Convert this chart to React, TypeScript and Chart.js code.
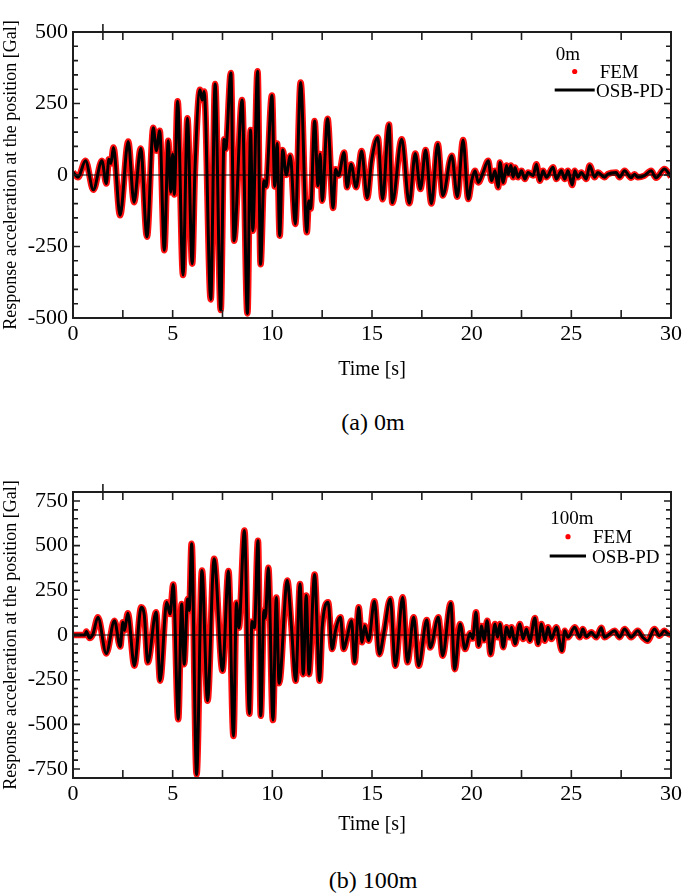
import React, { useEffect, useRef } from 'react';
import { Chart, registerables } from 'chart.js';
Chart.register(...registerables);

// ---------------- data ----------------
const timeA = [0, 0.25, 0.63, 1.02, 1.45, 1.67, 1.8, 1.9, 2.03, 2.36, 2.77, 3.06, 3.4, 3.71, 4.03, 4.18, 4.35, 4.58, 4.78, 4.9, 5.0, 5.08, 5.25, 5.52, 5.74, 5.98, 6.12, 6.37, 6.48, 6.58, 6.91, 7.13, 7.41, 7.58, 7.66, 7.92, 8.08, 8.48, 8.75, 8.91, 9.02, 9.26, 9.41, 9.58, 9.68, 9.98, 10.12, 10.24, 10.37, 10.52, 10.7, 10.9, 11.15, 11.42, 11.73, 11.83, 11.92, 12.12, 12.29, 12.4, 12.5, 12.77, 13.05, 13.17, 13.32, 13.6, 13.75, 13.95, 14.2, 14.48, 14.76, 14.98, 15.29, 15.53, 15.85, 16.02, 16.49, 16.87, 17.17, 17.43, 17.69, 17.98, 18.3, 18.55, 19.0, 19.28, 19.57, 19.83, 20.0, 20.17, 20.33, 20.58, 20.83, 21.0, 21.17, 21.33, 21.42, 21.58, 21.75, 21.83, 21.97, 22.08, 22.17, 22.33, 22.5, 22.67, 22.83, 23.08, 23.25, 23.42, 23.58, 23.75, 24.08, 24.25, 24.5, 24.67, 24.83, 25.05, 25.17, 25.33, 25.5, 25.75, 25.92, 26.17, 26.33, 26.67, 26.83, 27.25, 27.42, 27.67, 28.0, 28.17, 28.33, 28.67, 29.0, 29.25, 29.67, 30.0];
const accA = [10, -8, 50, -52, 50, -30, 55, 40, 96, -141, 117, -95, 93, -216, 165, 85, 155, -263, 120, -60, 73, -68, 258, -350, 198, -310, 20, 298, 262, 292, -435, 318, -472, 125, 90, 357, -230, 262, -484, 157, -195, 363, -312, -20, -40, 278, -40, 110, -212, 87, 0, 67, -171, 323, -200, -90, -118, 189, -37, 73, -90, 197, -115, 20, -2, 79, -43, 38, -43, 84, -80, 50, 131, -85, 177, -97, 125, -99, 75, -49, 87, -100, 108, -72, 67, -76, 122, -84, -20, 15, -26, 10, 50, -20, 15, -43, 44, -26, 33, 3, 33, -8, 26, -8, 15, -14, 9, -2, 38, -20, 15, -8, 27, -14, 15, -14, 15, -35, 15, -8, 9, -14, 33, -8, 9, -8, 3, 9, -8, 15, -10, 3, -8, -2, 15, -10, 21, -6];

const timeB = [0, 0.6, 0.67, 0.83, 1.0, 1.25, 1.67, 2.08, 2.37, 2.5, 2.58, 2.75, 3.08, 3.42, 3.58, 3.75, 4.17, 4.37, 4.7, 4.87, 5.03, 5.28, 5.45, 5.58, 5.75, 5.83, 5.95, 6.2, 6.47, 6.75, 7.08, 7.5, 7.8, 8.05, 8.2, 8.32, 8.6, 8.85, 8.98, 9.1, 9.28, 9.42, 9.58, 9.65, 9.8, 10.03, 10.2, 10.34, 10.75, 10.95, 11.17, 11.39, 11.55, 11.7, 11.84, 12.12, 12.37, 12.5, 12.8, 13.0, 13.17, 13.42, 13.58, 13.75, 13.97, 14.13, 14.33, 14.5, 14.63, 14.83, 15.12, 15.37, 15.6, 15.92, 16.17, 16.54, 16.78, 17.09, 17.34, 17.75, 17.92, 18.33, 18.54, 18.95, 19.15, 19.42, 19.67, 19.92, 20.05, 20.22, 20.35, 20.5, 20.62, 20.78, 20.95, 21.17, 21.3, 21.42, 21.58, 21.75, 21.92, 22.0, 22.17, 22.42, 22.58, 22.75, 22.92, 23.17, 23.33, 23.5, 23.67, 23.83, 24.0, 24.25, 24.53, 24.67, 24.83, 25.17, 25.42, 25.58, 25.75, 26.0, 26.25, 26.5, 26.67, 26.92, 27.17, 27.42, 27.67, 28.0, 28.33, 28.58, 28.83, 29.17, 29.42, 29.67, 29.83, 30.0];
const accB = [0, 0, 20, -17, 5, 99, -103, 80, -65, 71, 25, 121, -172, 155, 108, -153, 127, -256, 183, 118, 282, -471, 174, -163, 202, 137, 510, -780, 361, -368, 426, -200, 358, -565, 180, 40, 584, -440, 75, 40, 527, -452, 137, 95, 376, -476, 210, -270, 305, 60, -256, 286, -219, 221, -219, 338, -256, 40, 183, -79, 25, 99, -79, -13, 80, -153, 155, -41, 52, -32, 189, -107, 15, 202, -172, 211, -153, 99, -172, 84, -70, 99, -116, 178, -191, 62, -79, 10, -20, 127, -60, 50, -30, 80, -107, 62, -13, 62, -69, 43, -13, 43, -50, 62, -22, 34, -32, 95, -50, 62, -32, 43, -22, 43, -88, 24, -13, 43, -13, 34, -9, 15, -13, 40, -13, 6, 24, -13, 34, -13, 24, -13, -32, 34, -4, 24, 9, 0];

const xTickValues = [0, 5, 10, 15, 20, 25, 30];
const yTickValuesA = [-500, -250, 0, 250, 500];
const yTickValuesB = [-750, -500, -250, 0, 250, 500, 750];
const seriesNames = ['FEM', 'OSB-PD'];
const panelLabels = ['0m', '100m'];
const captions = ['(a) 0m', '(b) 100m'];
const yTitle = 'Response acceleration at the position [Gal]';
const xTitle = 'Time [s]';

const FONT = "'Liberation Serif', 'Times New Roman', serif";

type LegendPos = {
  labelX: number; labelY: number; dotX: number; dotY: number; femX: number; femY: number;
  lineX1: number; lineX2: number; lineY: number; osbX: number; osbY: number;
};

type PanelProps = {
  time: number[]; acc: number[]; yMin: number; yMax: number; yTicks: number[];
  label: string; top: number; height: number; padTop: number; chartBottom: number;
  titlePad: number; legend: LegendPos;
};

function Panel(p: PanelProps) {
  const ref = useRef<HTMLCanvasElement>(null);
  useEffect(() => {
    if (!ref.current) return;
    const pts = p.time.map((t, i) => ({ x: t, y: p.acc[i] }));
    const frame = {
      id: 'frame',
      afterDatasetsDraw(chart: any) {
        const { ctx, chartArea: a, scales } = chart;
        const xs = scales.x, ys = scales.y;
        ctx.save();
        // zero line
        const y0 = ys.getPixelForValue(0);
        ctx.strokeStyle = '#000';
        ctx.lineWidth = 1;
        ctx.beginPath(); ctx.moveTo(a.left, y0); ctx.lineTo(a.right, y0); ctx.stroke();
        // frame
        ctx.strokeStyle = '#1e1e1e';
        ctx.lineWidth = 2;
        ctx.strokeRect(a.left, a.top, a.right - a.left, a.bottom - a.top);
        // inward x ticks every 2.5 s (top and bottom)
        ctx.lineWidth = 1.6;
        ctx.beginPath();
        for (let v = 2.5; v < 30; v += 2.5) {
          const px = xs.getPixelForValue(v);
          ctx.moveTo(px, a.top); ctx.lineTo(px, a.top + 8);
          ctx.moveTo(px, a.bottom); ctx.lineTo(px, a.bottom - 8);
        }
        // stray tick above the frame
        const ps = xs.getPixelForValue(1.5);
        ctx.moveTo(ps, a.top - 8); ctx.lineTo(ps, a.top + 8);
        // inward y ticks every 50 (left and right)
        for (let v = p.yMin + 50; v < p.yMax; v += 50) {
          const py = ys.getPixelForValue(v);
          const major = v % 250 === 0;
          const len = major ? 7 : 5;
          ctx.moveTo(a.left, py); ctx.lineTo(a.left + len, py);
          ctx.moveTo(a.right, py); ctx.lineTo(a.right - len, py);
        }
        ctx.stroke();
        ctx.restore();
      },
      afterDraw(chart: any) {
        const { ctx, chartArea: a } = chart;
        const L = p.legend;
        ctx.save();
        ctx.font = `19px ${FONT}`;
        ctx.fillStyle = '#000';
        ctx.textBaseline = 'middle';
        ctx.textAlign = 'center';
        ctx.fillText(p.label, a.right + L.labelX, a.top + L.labelY);
        ctx.textAlign = 'left';
        ctx.fillText(seriesNames[0], a.right + L.femX, a.top + L.femY);
        ctx.fillText(seriesNames[1], a.right + L.osbX, a.top + L.osbY);
        ctx.fillStyle = '#ff0000';
        ctx.beginPath(); ctx.arc(a.right + L.dotX, a.top + L.dotY, 2.6, 0, Math.PI * 2); ctx.fill();
        ctx.strokeStyle = '#000';
        ctx.lineWidth = 3;
        ctx.beginPath(); ctx.moveTo(a.right + L.lineX1, a.top + L.lineY); ctx.lineTo(a.right + L.lineX2, a.top + L.lineY); ctx.stroke();
        ctx.restore();
      },
    };
    const chart = new Chart(ref.current, {
      type: 'line',
      data: {
        datasets: [
          {
            label: seriesNames[1], data: pts, borderColor: '#000', borderWidth: 3,
            pointRadius: 0, cubicInterpolationMode: 'monotone', order: 0,
          },
          {
            label: seriesNames[0], data: pts, borderColor: '#ff1010', borderWidth: 6.5,
            pointRadius: 0, cubicInterpolationMode: 'monotone', order: 1,
          },
        ],
      },
      options: {
        animation: false,
        responsive: false,
        maintainAspectRatio: false,
        devicePixelRatio: 1,
        layout: { padding: { top: p.padTop, right: 12, left: 0, bottom: 0 } },
        plugins: { legend: { display: false }, tooltip: { enabled: false } },
        scales: {
          x: {
            type: 'linear', min: 0, max: 30,
            afterBuildTicks: (s: any) => { s.ticks = xTickValues.map((v) => ({ value: v })); },
            afterFit: (s: any) => { s.height = p.height - p.chartBottom; },
            grid: { display: false, drawTicks: false },
            border: { display: false },
            ticks: { color: '#000', font: { family: FONT, size: 22 }, padding: 3, maxRotation: 0, autoSkip: false },
            title: { display: true, text: xTitle, color: '#000', font: { family: FONT, size: 20 }, padding: { top: 0, bottom: p.titlePad } },
          },
          y: {
            type: 'linear', min: p.yMin, max: p.yMax,
            afterBuildTicks: (s: any) => { s.ticks = p.yTicks.map((v) => ({ value: v })); },
            afterFit: (s: any) => { s.width = 73; },
            grid: { display: false, drawTicks: false },
            border: { display: false },
            ticks: { color: '#000', font: { family: FONT, size: 22 }, padding: 5, autoSkip: false },
            title: { display: true, text: yTitle, color: '#000', font: { family: FONT, size: 18 }, padding: { top: 0, bottom: 0 } },
          },
        },
      },
      plugins: [frame],
    } as any);
    return () => chart.destroy();
  }, []);
  return (
    <canvas
      ref={ref}
      width={685}
      height={p.height}
      style={{ position: 'absolute', left: 0, top: p.top, width: 685, height: p.height }}
    />
  );
}

const captionStyle = (top: number): React.CSSProperties => ({
  position: 'absolute', left: 223, width: 300, top, textAlign: 'center',
  fontFamily: FONT, fontSize: 24, lineHeight: '28px', color: '#000',
});

export default function App() {
  return (
    <div style={{ position: 'absolute', left: 0, top: 0, width: 685, height: 890, background: '#fff' }}>
      <Panel
        time={timeA} acc={accA} yMin={-500} yMax={500} yTicks={yTickValuesA} label={panelLabels[0]}
        top={0} height={400} padTop={32} chartBottom={318} titlePad={18}
        legend={{ labelX: -103, labelY: 23, dotX: -96.3, dotY: 39.5, femX: -71.3, femY: 41.5, lineX1: -116.3, lineX2: -76.3, lineY: 58, osbX: -75, osbY: 60.5 }}
      />
      <div style={captionStyle(408)}>{captions[0]}</div>
      <Panel
        time={timeB} acc={accB} yMin={-800} yMax={800} yTicks={yTickValuesB} label={panelLabels[1]}
        top={450} height={400} padTop={42} chartBottom={328} titlePad={13}
        legend={{ labelX: -99, labelY: 27, dotX: -103, dotY: 44.7, femX: -78, femY: 46, lineX1: -121.3, lineX2: -85, lineY: 64, osbX: -79, osbY: 66 }}
      />
      <div style={captionStyle(866)}>{captions[1]}</div>
    </div>
  );
}
